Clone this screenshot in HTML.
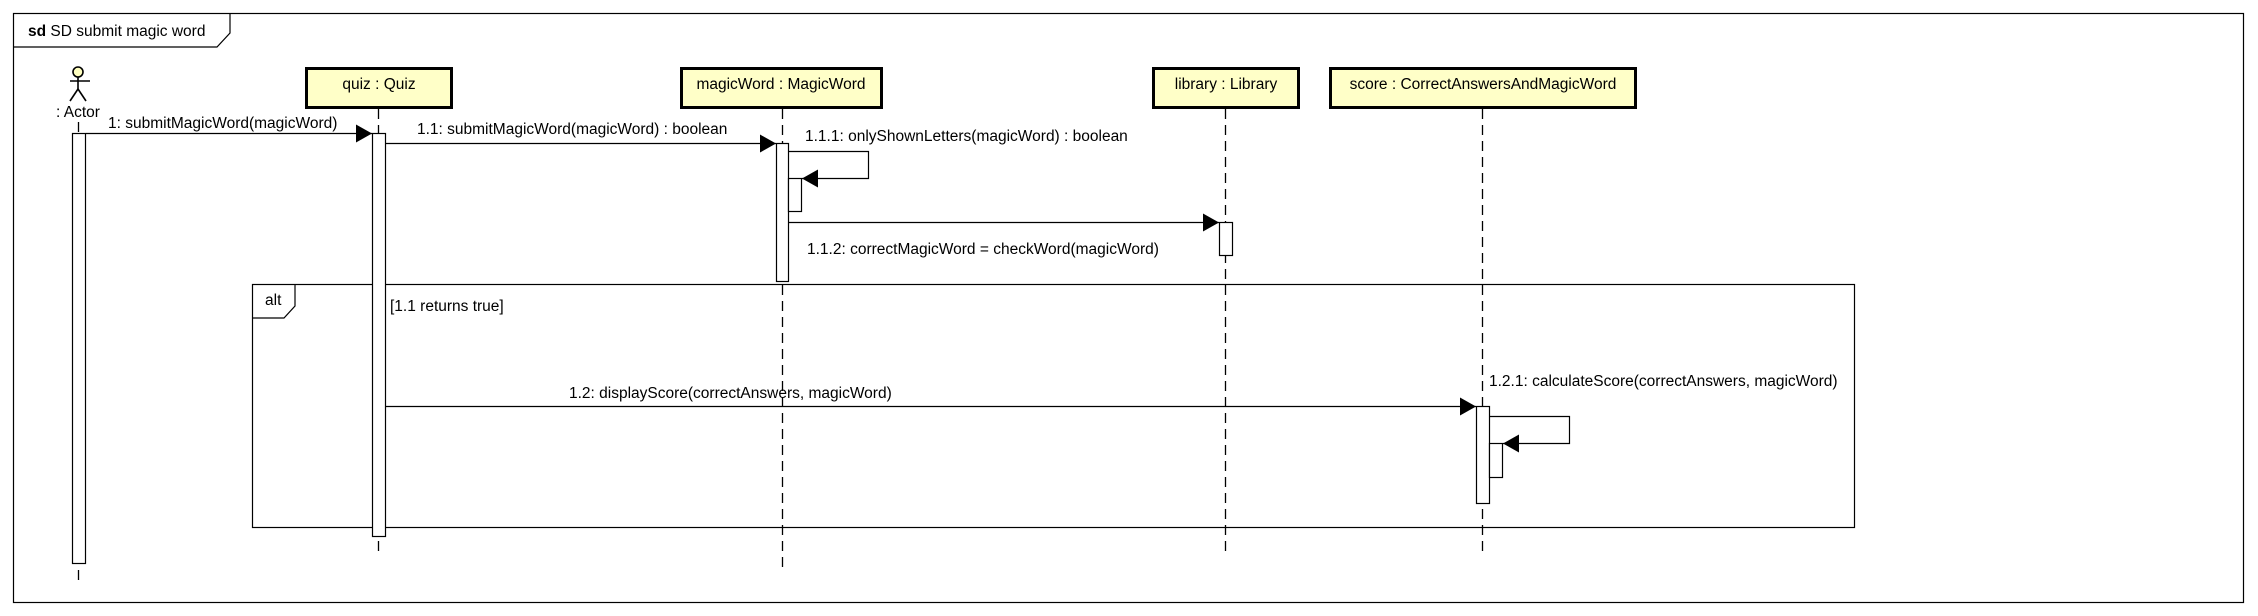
<!DOCTYPE html>
<html><head><meta charset="utf-8"><style>
html,body{margin:0;padding:0;background:#fff}
svg{display:block}
text{font-family:"Liberation Sans",Arial,sans-serif;font-size:15.5px;fill:#000}
</style></head><body>
<svg width="2258" height="616" viewBox="0 0 2258 616" xmlns="http://www.w3.org/2000/svg">
<defs>
<marker id="ah" markerWidth="16" markerHeight="18" refX="16" refY="9" orient="auto" markerUnits="userSpaceOnUse">
<path d="M0,0 L16,9 L0,18 Z" fill="#000"/>
</marker>
</defs>
<rect x="0" y="0" width="2258" height="616" fill="#fff"/>
<rect x="13.5" y="13.5" width="2230" height="589" fill="none" stroke="#000" stroke-width="1.2"/>
<path d="M13.5,47 L217,47 L230,33 L230,13.5" fill="none" stroke="#000" stroke-width="1.2"/>
<text x="28" y="36"><tspan font-weight="bold">sd</tspan> SD submit magic word</text>

<g stroke="#000" stroke-width="1.3" stroke-dasharray="10,6" fill="none">
<line x1="78.5" y1="122" x2="78.5" y2="585"/>
<line x1="378.5" y1="109" x2="378.5" y2="555"/>
<line x1="782.5" y1="109" x2="782.5" y2="570"/>
<line x1="1225.5" y1="109" x2="1225.5" y2="555"/>
<line x1="1482.5" y1="109" x2="1482.5" y2="555"/>
</g>

<g stroke="#000" stroke-width="1.6" fill="none">
<circle cx="78" cy="72" r="5" fill="#ffffc0"/>
<line x1="78" y1="77" x2="78" y2="89"/>
<line x1="70" y1="81" x2="90" y2="81"/>
<line x1="78" y1="89" x2="70" y2="101"/>
<line x1="78" y1="89" x2="86" y2="101"/>
</g>
<text x="78" y="117" text-anchor="middle">: Actor</text>

<g fill="#ffffc8" stroke="#000" stroke-width="3">
<rect x="306.5" y="68.5" width="145" height="39"/>
<rect x="681.5" y="68.5" width="200" height="39"/>
<rect x="1153.5" y="68.5" width="145" height="39"/>
<rect x="1330.5" y="68.5" width="305" height="39"/>
</g>
<text x="379" y="89" text-anchor="middle">quiz : Quiz</text>
<text x="781" y="89" text-anchor="middle">magicWord : MagicWord</text>
<text x="1226" y="89" text-anchor="middle">library : Library</text>
<text x="1483" y="89" text-anchor="middle">score : CorrectAnswersAndMagicWord</text>

<rect x="252.5" y="284.5" width="1602" height="243" fill="none" stroke="#000" stroke-width="1.2"/>
<path d="M252.5,318 L284,318 L295,306 L295,284.5" fill="#fff" stroke="#000" stroke-width="1.2"/>
<text x="265" y="305">alt</text>
<text x="390" y="311">[1.1 returns true]</text>

<g fill="#fff" stroke="#000" stroke-width="1.2">
<rect x="72.5" y="133.5" width="13" height="430"/>
<rect x="372.5" y="133.5" width="13" height="403"/>
<rect x="776.5" y="143.5" width="12" height="138"/>
<rect x="788.5" y="178.5" width="13" height="33"/>
<rect x="1219.5" y="222.5" width="13" height="33"/>
<rect x="1476.5" y="406.5" width="13" height="97"/>
<rect x="1489.5" y="443.5" width="13" height="34"/>
</g>

<g stroke="#000" stroke-width="1.2" fill="none">
<line x1="86" y1="133.5" x2="372" y2="133.5" marker-end="url(#ah)"/>
<line x1="386" y1="143.5" x2="776" y2="143.5" marker-end="url(#ah)"/>
<polyline points="789,151.5 868.5,151.5 868.5,178.5 802,178.5" marker-end="url(#ah)"/>
<line x1="789" y1="222.5" x2="1219" y2="222.5" marker-end="url(#ah)"/>
<line x1="386" y1="406.5" x2="1476" y2="406.5" marker-end="url(#ah)"/>
<polyline points="1490,416.5 1569.5,416.5 1569.5,443.5 1503,443.5" marker-end="url(#ah)"/>
</g>
<text x="108" y="128">1: submitMagicWord(magicWord)</text>
<text x="417" y="134">1.1: submitMagicWord(magicWord) : boolean</text>
<text x="805" y="141">1.1.1: onlyShownLetters(magicWord) : boolean</text>
<text x="807" y="254">1.1.2: correctMagicWord = checkWord(magicWord)</text>
<text x="569" y="398">1.2: displayScore(correctAnswers, magicWord)</text>
<text x="1489" y="386">1.2.1: calculateScore(correctAnswers, magicWord)</text>
</svg>
</body></html>
